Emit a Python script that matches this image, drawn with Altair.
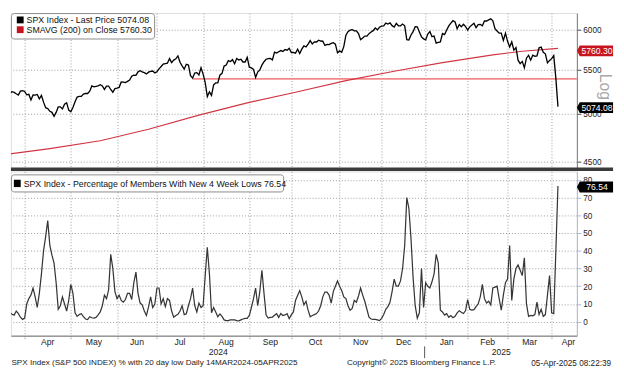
import altair as alt
import pandas as pd

# ---------------- data ----------------
HOLIDAYS = ["2024-03-29", "2024-05-27", "2024-06-19", "2024-07-04", "2024-09-02",
            "2024-11-28", "2024-12-25", "2025-01-01", "2025-01-09", "2025-01-20",
            "2025-02-17"]

SPX_CLOSE = [
    # Mar 2024
    5150.48, 5117.09, 5149.42, 5178.51, 5224.62, 5241.53, 5234.18, 5218.19, 5203.58, 5248.49, 5254.35,
    # Apr
    5243.77, 5205.81, 5211.49, 5147.21, 5204.34, 5202.39, 5209.91, 5160.64, 5199.06, 5123.41, 5061.82,
    5051.41, 5022.21, 5011.12, 4967.23, 5010.60, 5070.55, 5071.63, 5048.42, 5099.96, 5116.17, 5035.69,
    # May
    5018.39, 5064.20, 5127.79, 5180.74, 5187.70, 5187.67, 5214.08, 5222.68, 5221.42, 5246.68, 5308.15,
    5297.10, 5303.27, 5308.13, 5321.41, 5307.01, 5267.84, 5304.72, 5306.04, 5266.95, 5235.48, 5277.51,
    # Jun
    5283.40, 5291.34, 5354.03, 5352.96, 5346.99, 5360.79, 5375.32, 5421.03, 5433.74, 5431.60, 5473.23,
    5487.03, 5473.17, 5464.62, 5447.87, 5469.30, 5477.90, 5482.87, 5460.48,
    # Jul
    5475.09, 5509.01, 5537.02, 5567.19, 5572.85, 5576.98, 5633.91, 5584.54, 5615.35, 5631.22, 5667.20,
    5588.27, 5544.59, 5505.00, 5564.41, 5555.74, 5427.13, 5399.22, 5459.10, 5463.54, 5436.44, 5522.30,
    # Aug
    5446.68, 5346.56, 5186.33, 5240.03, 5199.50, 5319.31, 5344.16, 5344.39, 5434.43, 5455.21, 5543.22,
    5554.25, 5608.25, 5597.12, 5620.85, 5570.64, 5634.61, 5616.84, 5625.80, 5592.18, 5591.96, 5648.40,
    # Sep
    5528.93, 5520.07, 5503.41, 5408.42, 5471.05, 5495.52, 5554.13, 5595.76, 5626.02, 5633.09, 5634.58,
    5618.26, 5713.64, 5702.55, 5718.57, 5732.93, 5722.26, 5745.37, 5738.17, 5762.48,
    # Oct
    5708.75, 5709.54, 5699.94, 5751.07, 5695.94, 5751.13, 5792.04, 5780.05, 5815.03, 5859.85, 5815.26,
    5842.47, 5841.47, 5864.67, 5853.98, 5851.20, 5797.42, 5809.86, 5808.12, 5823.52, 5832.92, 5813.67,
    5705.45,
    # Nov
    5728.80, 5712.69, 5782.76, 5929.04, 5973.10, 5995.54, 6001.35, 5983.99, 5985.38, 5949.17, 5870.62,
    5893.62, 5916.98, 5917.11, 5948.71, 5969.34, 5987.37, 6021.63, 5998.74, 6032.38,
    # Dec
    6047.15, 6049.88, 6086.49, 6075.11, 6090.27, 6052.85, 6034.91, 6084.19, 6051.25, 6051.09, 6074.08,
    6050.61, 5872.16, 5867.08, 5930.85, 5974.07, 6040.04, 6037.59, 5970.84, 5906.94, 5881.63,
    # Jan 2025
    5868.55, 5942.47, 5975.38, 5909.03, 5918.25, 5827.04, 5836.22, 5842.91, 5949.91, 5937.34, 5996.66,
    6049.24, 6086.37, 6118.71, 6101.24, 6012.28, 6067.70, 6039.31, 6071.17, 6040.53,
    # Feb
    5994.57, 6037.88, 6061.48, 6083.57, 6025.99, 6066.44, 6068.50, 6051.97, 6115.07, 6114.63, 6129.58,
    6144.15, 6117.52, 6013.13, 5983.25, 5955.25, 5956.06, 5861.57, 5954.50,
    # Mar
    5849.72, 5778.15, 5842.63, 5738.52, 5770.20, 5614.56, 5572.07, 5599.30, 5521.52, 5638.94, 5675.12,
    5614.66, 5675.29, 5662.89, 5667.56, 5767.57, 5776.65, 5712.20, 5693.31, 5580.94, 5611.85,
    # Apr
    5633.07, 5670.97, 5396.52, 5074.08,
]

PCT_NEW_LOWS = [
    12, 10, 8, 6, 5, 4.2, 3.7, 6, 4.5, 2.5, 1.3, 2,
    10, 13, 15, 19, 14, 8, 16, 27, 40, 48, 57, 43,
    37.5, 33, 22, 7, 9, 14, 10, 6, 12, 21, 16, 5,
    3, 4, 4.5, 2.8, 1.5, 1.2, 2.8, 2.2, 2, 2.4, 3.8, 5.5,
    9, 15, 13, 18, 38, 30, 17, 13, 15, 12, 11, 12.5,
    16, 16, 12.5, 22, 28, 16, 10.5, 9.5, 6, 3.5, 8.3, 14,
    8, 10, 19, 19, 10, 13, 8.5, 13, 12, 6, 2.5, 3.5,
    4.2, 6, 9, 4, 4.5, 9, 13, 19, 9, 5.5, 10.5, 8,
    9, 26, 42, 27, 5, 8, 5.5, 2.8, 4.4, 3, 1, 0.6,
    0.6, 1, 1, 1, 0.6, 0.5, 1, 1.5, 1.9, 1.9, 3.5, 8,
    13, 19, 9, 17, 29, 16, 3.7, 2, 2.4, 2.6, 3.6, 4.5,
    2.4, 4.6, 3.5, 3.8, 4.5, 1.7, 3.8, 5.5, 12, 14.8, 17.5, 14,
    9.5, 11.5, 6.5, 2.8, 3.5, 4, 4.6, 6, 9, 14, 16.7, 16.7,
    15, 10.5, 17, 20, 23, 20, 17.6, 14, 13, 9, 6.5, 7.5,
    12, 11, 14.5, 19, 15, 11.5, 7, 2.5, 1.5, 1.3, 1.3, 1,
    0.6, 1.9, 4, 7, 8.5, 11, 17, 24, 20, 20, 23, 30,
    43, 70, 64, 47, 25, 9, 2, 5, 30, 8, 22, 20,
    19, 22.5, 27, 38, 33, 6.5, 5.5, 3.7, 4.5, 2.5, 3.5, 2.2,
    3, 5, 6.2, 5.3, 4.6, 6.3, 12.5, 7, 6.5, 6.8, 8.5, 10,
    14, 21, 13, 10.5, 11.5, 9.5, 19, 19.5, 20, 13, 6.5, 15,
    22, 24, 43, 12, 24, 30, 32, 29, 26, 36, 10, 3,
    3.5, 3.3, 4, 11, 4, 7, 3, 4, 15, 26, 5, 4.5,
    40, 76.54,
]

# 200-day moving average (trading-day index, value)
SMA_IDX = [0, 23, 47, 70, 94, 117, 140, 164, 187, 210, 234, 248, 265]
SMA_VAL = [4565, 4630, 4710, 4830, 4980, 5115, 5235, 5370, 5480, 5585, 5680, 5725, 5760.30]

SUPPORT_LEVEL = 5390        # light red horizontal line
SUPPORT_START_IDX = 91      # starts late July 2024

LAST_PRICE = 5074.08
LAST_SMA = 5760.30
LAST_PCT = 76.54

MONTH_LABELS = ["Apr", "May", "Jun", "Jul", "Aug", "Sep", "Oct", "Nov", "Dec",
                "Jan", "Feb", "Mar", "Apr"]
LAST_MONTH_LABEL_IDX = 270
YEAR_LABELS = ["2024", "2025"]
PRICE_TICKS = [4500, 5000, 5500, 6000]
PCT_TICKS = [0, 10, 20, 30, 40, 50, 60, 70, 80]

LEGEND_TOP_1 = "SPX Index - Last Price 5074.08"
LEGEND_TOP_2 = "SMAVG (200)  on Close 5760.30"
LEGEND_BOTTOM = "SPX Index - Percentage of Members With New 4 Week Lows 76.54"
FOOTER_LEFT = "SPX Index (S&P 500 INDEX) % with 20 day low  Daily 14MAR2024-05APR2025"
FOOTER_MID = "Copyright\u00a9 2025 Bloomberg Finance L.P."
FOOTER_RIGHT = "05-Apr-2025 08:22:39"

# ---------------- tables ----------------
dates = pd.bdate_range("2024-03-14", "2025-04-04", freq="C", holidays=HOLIDAYS)
n = min(len(dates), len(SPX_CLOSE), len(PCT_NEW_LOWS))
df = pd.DataFrame({"idx": list(range(n)), "close": SPX_CLOSE[:n], "pct": PCT_NEW_LOWS[:n]})
sma_df = pd.DataFrame({"idx": SMA_IDX, "val": SMA_VAL})

month_starts = [i for i in range(1, n) if dates[i].month != dates[i - 1].month]
month_mid = [(month_starts[k] + month_starts[k + 1]) / 2 for k in range(len(month_starts) - 1)]
month_mid.append(LAST_MONTH_LABEL_IDX)
months_df = pd.DataFrame({"idx": month_mid, "label": MONTH_LABELS[:len(month_mid)]})

X_DOMAIN = [4.469, 274.02]
year_start = [i for i in range(1, n) if dates[i].year != dates[i - 1].year][0]
years_df = pd.DataFrame({
    "idx": [(X_DOMAIN[0] + year_start) / 2, (year_start + X_DOMAIN[1]) / 2],
    "label": YEAR_LABELS,
})

ONE = pd.DataFrame({"k": [0]})

FONT = "Liberation Sans"
W = 579
H_TOP = 159
H_BOT = 168

x_scale = alt.Scale(domain=X_DOMAIN, nice=False, zero=False)
y_top_scale = alt.Scale(type="log", domain=[4433.5, 6221.3], nice=False)
y_bot_scale = alt.Scale(domain=[-7.89, 84.78], nice=False, zero=False)

GRID = dict(gridColor="#9c9c9c", gridDash=[1, 2], gridWidth=1)


def pix_rect(x1, x2, y1, y2, **kw):
    return alt.Chart(ONE).mark_rect(**kw).encode(
        x=alt.value(x1), x2=alt.value(x2), y=alt.value(y1), y2=alt.value(y2))


def pix_text(x, y, s, **kw):
    kw.setdefault("font", FONT)
    return alt.Chart(ONE).mark_text(**kw).encode(
        x=alt.value(x), y=alt.value(y), text=alt.value(s))


BOX_PATH = "M-1,0L-0.84,-0.3L1,-0.3L1,0.3L-0.84,0.3Z"


def value_box(yval, color, label, yoff=0.0):
    box = alt.Chart(ONE).mark_point(
        shape=BOX_PATH, filled=True, size=1369, opacity=1, color=color,
        strokeWidth=0, yOffset=yoff
    ).encode(x=alt.value(597.5), y=alt.datum(yval))
    txt = alt.Chart(ONE).mark_text(
        font=FONT, fontSize=8.8, color="white", align="center", baseline="middle",
        yOffset=yoff
    ).encode(x=alt.value(599.5), y=alt.datum(yval), text=alt.value(label))
    return [box, txt]


# ---------------- top panel ----------------
top_x_axis = alt.Axis(values=month_starts, tickCount=len(month_starts) + 2, labels=False,
                      ticks=False, domain=False, grid=True, title=None, **GRID)
top_y_axis = alt.Axis(orient="right", values=PRICE_TICKS, tickCount=len(PRICE_TICKS) + 1,
                      format="d", title=None,
                      grid=True, domainColor="#7a7a7a", tickColor="#444", tickSize=4,
                      labelFont=FONT, labelFontSize=8.4, labelColor="#222",
                      labelPadding=2, labelOverlap=False, labelBound=False, **GRID)

price = alt.Chart(df).mark_line(color="#000000", strokeWidth=1.35, clip=True).encode(
    x=alt.X("idx:Q", scale=x_scale, axis=top_x_axis),
    y=alt.Y("close:Q", scale=y_top_scale, axis=top_y_axis),
)
sma = alt.Chart(sma_df).mark_line(color="#d23644", strokeWidth=1.2, clip=True).encode(
    x=alt.X("idx:Q", scale=x_scale),
    y=alt.Y("val:Q", scale=y_top_scale),
)
support = alt.Chart(ONE).mark_rule(color="#f28a8a", strokeWidth=2).encode(
    x=alt.datum(SUPPORT_START_IDX), x2=alt.value(W), y=alt.datum(SUPPORT_LEVEL)
)

top_layers = [support, sma, price]
top_layers += value_box(LAST_SMA, "#c8141f", "5760.30", yoff=2.5)
top_layers += value_box(LAST_PRICE, "#000000", "5074.08", yoff=1)
top_layers += [
    pix_text(608, 75.5, "Log", angle=90, fontSize=16, color="#a8a8a8",
             align="center", baseline="middle"),
    pix_rect(0.5, 147, 0.5, 26.5, fill="white", stroke="#8a8a8a", strokeWidth=1, cornerRadius=3),
    pix_rect(6, 13, 3.5, 10.5, fill="#000000"),
    pix_rect(6, 13, 13.5, 20.5, fill="#c8141f"),
    pix_text(16, 7.5, LEGEND_TOP_1, fontSize=9, color="#111", align="left", baseline="middle"),
    pix_text(16, 17.5, LEGEND_TOP_2, fontSize=9, color="#111", align="left", baseline="middle"),
]
top = alt.layer(*top_layers).properties(width=W, height=H_TOP)

# ---------------- bottom panel ----------------
bot_x_axis = alt.Axis(values=month_starts, tickCount=len(month_starts) + 2, labels=False,
                      ticks=True, tickSize=4,
                      tickColor="#8a8a8a", tickDash=[1, 1], domain=True, domainColor="#6a6a6a",
                      grid=True, title=None, **GRID)
bot_y_axis = alt.Axis(orient="right", values=PCT_TICKS, tickCount=len(PCT_TICKS) + 1,
                      format="d", title=None,
                      grid=True, domainColor="#a9b8d6", tickColor="#a9b8d6", tickSize=4,
                      labelFont=FONT, labelFontSize=8.4, labelColor="#222",
                      labelPadding=2, labelOverlap=False, labelBound=False, **GRID)

pct_line = alt.Chart(df).mark_line(color="#353535", strokeWidth=1.25, clip=True).encode(
    x=alt.X("idx:Q", scale=x_scale, axis=bot_x_axis),
    y=alt.Y("pct:Q", scale=y_bot_scale, axis=bot_y_axis),
)
month_text = alt.Chart(months_df).mark_text(
    font=FONT, fontSize=8.8, color="#222", align="center", baseline="middle"
).encode(x=alt.X("idx:Q", scale=x_scale), y=alt.value(175), text="label:N")
year_text = alt.Chart(years_df).mark_text(
    font=FONT, fontSize=8.8, color="#222", align="center", baseline="middle"
).encode(x=alt.X("idx:Q", scale=x_scale), y=alt.value(184.5), text="label:N")
year_sep = alt.Chart(ONE).mark_rule(color="#555", strokeWidth=1).encode(
    x=alt.datum(year_start - 0.5), y=alt.value(179), y2=alt.value(191)
)
band = alt.Chart(ONE).mark_rule(color="#3b3b3b", strokeWidth=3.5).encode(
    x=alt.value(0), x2=alt.value(616), y=alt.value(-2.2)
)

bot_layers = [pct_line, month_text, year_text, year_sep, band]
bot_layers += value_box(LAST_PCT, "#000000", "76.54", yoff=1)
bot_layers += [
    pix_rect(0.5, 279, 3.5, 21, fill="white", stroke="#8a8a8a", strokeWidth=1, cornerRadius=3),
    pix_rect(3, 10, 8.5, 16, fill="#000000"),
    pix_text(13, 12.5, LEGEND_BOTTOM, fontSize=9, color="#111", align="left", baseline="middle"),
    pix_text(0.5, 196.5, FOOTER_LEFT, fontSize=8.3, color="#222", align="left", baseline="middle"),
    pix_text(420, 196.5, FOOTER_MID, fontSize=8.3, color="#222", align="center", baseline="middle"),
    pix_text(614, 196.5, FOOTER_RIGHT, fontSize=8.4, color="#222", align="right", baseline="middle"),
]
bottom = alt.layer(*bot_layers).properties(width=W, height=H_BOT)

chart = alt.vconcat(top, bottom, spacing=3, bounds="flush",
                    padding={"left": 0, "top": 0, "right": 0, "bottom": 0}).configure_view(
    stroke=None
).configure(font=FONT)

chart.save("out.html", embed_options={"renderer": "svg", "actions": False})
